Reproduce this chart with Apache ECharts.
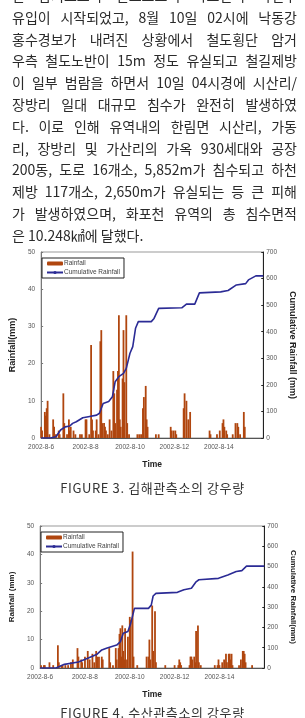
<!DOCTYPE html>
<html>
<head>
	<meta charset="utf-8">
	<title>김해 / 수산 관측소 강우량</title>
	<script src="https://cdn.jsdelivr.net/npm/echarts@6.0.0/dist/echarts.min.js"></script>
	<style type="text/css">
		body{
			margin: 0;
			background: #fff;
			width: 305px;
			height: 718px;
			overflow: hidden;
			position: relative;
			font-family: "Noto Sans CJK KR", sans-serif;
		}
		#chart{
			position: absolute;
			left: 0;
			top: 0;
			width: 305px;
			height: 718px;
		}
		.line{
			position: absolute;
			left: 12px;
			width: 285px;
			height: 22px;
			line-height: 22px;
			font-size: 14px;
			color: #2a2a2a;
			text-align: justify;
			text-align-last: justify;
			white-space: nowrap;
			z-index: 2;
		}
		.line.last{
			text-align-last: left;
		}
		.caption{
			position: absolute;
			left: 0;
			width: 305px;
			text-align: center;
			font-size: 13px;
			letter-spacing: 0.6px;
			color: #333;
			z-index: 2;
		}
	</style>
</head>
<body>
	<div id="chart"></div>
	<div id="text"></div>
	<div class="caption" style="top:478px">FIGURE 3. 김해관측소의 강우량</div>
	<div class="caption" style="top:703px">FIGURE 4. 수산관측소의 강우량</div>
	<script type="text/javascript">
		// 본문
		var textLines = [
			'한 남기도로와 신도도로의 화포천의 하천수',
			'유입이 시작되었고, 8월 10일 02시에 낙동강',
			'홍수경보가 내려진 상황에서 철도횡단 암거',
			'우측 철도노반이 15m 정도 유실되고 철길제방',
			'이 일부 범람을 하면서 10일 04시경에 시산리/',
			'장방리 일대 대규모 침수가 완전히 발생하였',
			'다. 이로 인해 유역내의 한림면 시산리, 가동',
			'리, 장방리 및 가산리의 가옥 930세대와 공장',
			'200동, 도로 16개소, 5,852m가 침수되고 하천',
			'제방 117개소, 2,650m가 유실되는 등 큰 피해',
			'가 발생하였으며, 화포천 유역의 총 침수면적',
			'은 10.248㎢에 달했다.'
		];

		// x축: 2002-8-6 00시부터의 시간(hour)
		var dayTicks = ['2002-8-6', '2002-8-8', '2002-8-10', '2002-8-12', '2002-8-14'];

		// 김해관측소
		var rainHours1 = [0,1,4,5,6,7,9,13,14,16,19,20,24,25,28,30,31,32,35,37,42,44,48,49,52,54,55,56,59,60,62,64,65,66,68,69,70,72,74,76,78,79,80,82,83,84,85,86,88,89,90,92,93,95,104,106,108,110,111,113,114,115,124,127,140,141,143,145,146,154,155,157,159,161,182,183,190,193,196,197,198,200,201,207,210,212,213,215,219,220];
		var rainValues1 = [3,2,7,6,8,10,1,5,3,1,2,1,12,4,1,5,2,3,2,1,1,1,5,5,1,25,5,2,2,5,1,26,29,4,4,3,2,1,5,2,18,12,4,13,18,33,5,3,16,29,15,33,4,1,1,1,1,8,11,14,5,3,1,1,3,2,2,2,1,8,12,10,5,7,2,1,1,2,4,5,3,2,1,1,4,4,3,1,7,3];
		var cumHours1 = [0,10,16,21,26,31,34,38,45,51,60,63,67,73,77,80,84,89,92,96,99,102,105,119,122,127,152,157,166,171,194,202,211,221,224,232,240];
		var cumValues1 = [0,0,5,30,42,45,55,61,76,80,86,93,130,137,155,212,231,243,262,319,344,413,438,438,450,488,490,504,504,546,550,555,576,581,595,610,610];

		// 수산관측소
		var rainHours2 = [1,4,5,10,14,19,20,23,24,27,30,33,35,40,41,44,45,48,51,53,56,58,60,61,63,66,67,74,75,78,81,82,84,85,86,87,88,89,90,91,93,94,96,97,99,100,104,114,116,117,118,120,121,123,124,134,144,148,149,150,151,160,161,162,163,165,166,167,169,170,172,187,190,191,192,195,197,199,200,202,203,204,205,206,213,215,217,218,219,220,227];
		var rainValues2 = [1,1,1,2,1,8,2,1,1,1,1,2,3,7,4,3,2,4,6,3,5,2,6,4,4,4,3,7,2,1,7,3,7,12,14,4,15,6,3,14,3,11,18,17,41,4,1,4,4,10,3,22,6,20,2,1,1,1,3,2,1,1,4,4,3,4,2,13,15,2,1,1,1,3,1,2,3,5,2,5,5,3,5,1,1,3,6,6,5,2,1];
		var cumHours2 = [0,17,26,41,51,61,66,71,76,82,86,89,94,97,101,116,119,121,124,147,154,162,167,170,191,201,210,216,221,240];
		var cumValues2 = [0,0,18,30,48,68,89,97,105,113,130,171,180,220,294,294,310,355,368,373,386,393,425,435,442,458,476,480,502,502];

		function pairs(xs, ys){
			return xs.map(function(x, i){ return [x, ys[i]]; });
		}

		var box = document.getElementById('text');
		textLines.forEach(function(t, i){
			var d = document.createElement('div');
			d.className = 'line' + (i == textLines.length - 1 ? ' last' : '');
			d.style.top = (-16 + i * 21.8) + 'px';
			d.textContent = t;
			box.appendChild(d);
		});

		var axisText = {fontSize: 6.5, color: '#555', fontFamily: 'Arial, Liberation Sans'};
		var nameText = function(size){
			return {fontSize: size, fontWeight: 'bold', color: '#222', fontFamily: 'Arial, Liberation Sans'};
		};

		function xAxisFor(idx){
			return {
				type: 'value', gridIndex: idx, min: 0, max: 240, interval: 48,
				name: 'Time', nameLocation: 'middle', nameGap: 22,
				nameTextStyle: nameText(8.5),
				axisLine: {show: true, lineStyle: {color: '#555'}},
				axisTick: {show: false},
				splitLine: {show: false},
				axisLabel: Object.assign({
					margin: 6,
					showMaxLabel: false,
					formatter: function(v){ return dayTicks[v / 48] || ''; }
				}, axisText)
			};
		}

		function leftAxis(idx, name, size, gap){
			return {
				type: 'value', gridIndex: idx, min: 0, max: 50, interval: 10, position: 'left',
				name: name, nameLocation: 'middle', nameRotate: 90, nameGap: gap,
				nameTextStyle: nameText(size),
				axisLine: {show: true, lineStyle: {color: '#777'}},
				axisTick: {show: true, inside: true, length: 2, lineStyle: {color: '#777'}},
				splitLine: {show: false},
				axisLabel: Object.assign({margin: 6}, axisText)
			};
		}

		function rightAxis(idx, name, size, gap){
			return {
				type: 'value', gridIndex: idx, min: 0, max: 700, interval: 100, position: 'right',
				name: name, nameLocation: 'middle', nameRotate: -90, nameGap: gap,
				nameTextStyle: nameText(size),
				axisLine: {show: true, lineStyle: {color: '#222'}},
				axisTick: {show: true, inside: true, length: 2, lineStyle: {color: '#222'}},
				splitLine: {show: false},
				axisLabel: Object.assign({margin: 3}, axisText)
			};
		}

		function legendAt(left, top){
			return {
				left: left, top: top, orient: 'vertical',
				width: 80,
				itemGap: 2, itemWidth: 16, itemHeight: 4,
				padding: [2, 4, 2, 4],
				borderColor: '#222', borderWidth: 1,
				data: ['Rainfall', 'Cumulative Rainfall'],
				textStyle: {fontSize: 6.5, color: '#444', padding: [0, 0, 0, -4], fontFamily: 'Arial, Liberation Sans'}
			};
		}

		var barColor = '#B0460F';
		var lineColor = '#2B2B95';

		var myChart = echarts.init(document.getElementById('chart'));
		var option = {
			animation: false,
			backgroundColor: '#fff',
			grid: [
				{left: 36, top: 252, width: 242, height: 186, show: true, borderColor: '#999', borderWidth: 1},
				{left: 36, top: 526, width: 237, height: 142, show: true, borderColor: '#999', borderWidth: 1}
			],
			legend: [legendAt(42, 258), legendAt(41, 532)],
			xAxis: [xAxisFor(0), xAxisFor(1)],
			yAxis: [
				leftAxis(0, 'Rainfall(mm)', 9, 20),
				rightAxis(0, 'Cumulative Rainfall (mm)', 9, 20),
				leftAxis(1, 'Rainfall (mm)', 8, 20),
				rightAxis(1, 'Cumulative Rainfall(mm)', 8, 20)
			],
			series: [
				{
					name: 'Rainfall', type: 'bar', xAxisIndex: 0, yAxisIndex: 0,
					barWidth: 1.8, itemStyle: {color: barColor},
					data: pairs(rainHours1, rainValues1)
				},
				{
					name: 'Cumulative Rainfall', type: 'line', xAxisIndex: 0, yAxisIndex: 1,
					symbol: 'none', lineStyle: {color: lineColor, width: 1.6}, itemStyle: {color: lineColor},
					data: pairs(cumHours1, cumValues1)
				},
				{
					name: 'Rainfall', type: 'bar', xAxisIndex: 1, yAxisIndex: 2,
					barWidth: 1.8, itemStyle: {color: barColor},
					data: pairs(rainHours2, rainValues2)
				},
				{
					name: 'Cumulative Rainfall', type: 'line', xAxisIndex: 1, yAxisIndex: 3,
					symbol: 'none', lineStyle: {color: lineColor, width: 1.6}, itemStyle: {color: lineColor},
					data: pairs(cumHours2, cumValues2)
				}
			]
		};
		myChart.setOption(option);
	</script>
</body>
</html>
